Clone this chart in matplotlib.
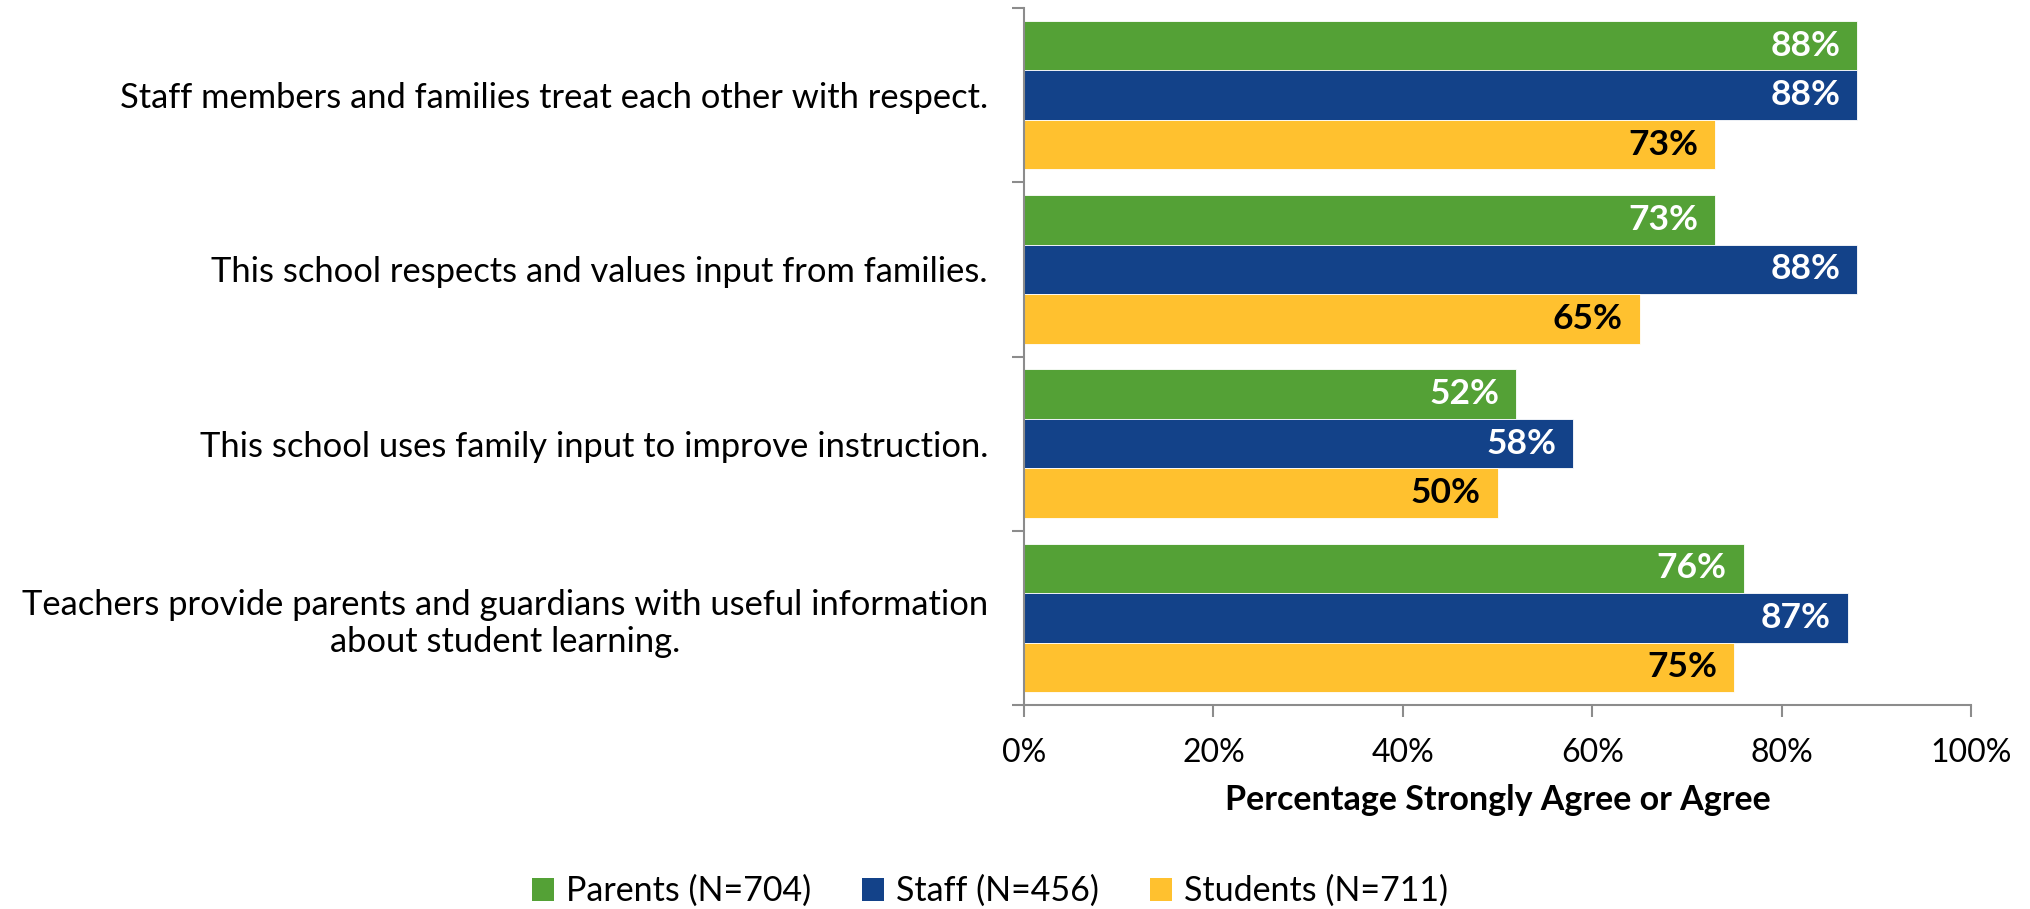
import matplotlib.pyplot as plt
from matplotlib.patches import Patch

plt.rcParams['font.family'] = ['Lato', 'DejaVu Sans']

questions = [
    "Staff members and families treat each other with respect.",
    "This school respects and values input from families.",
    "This school uses family input to improve instruction.",
    "Teachers provide parents and guardians with useful information\nabout student learning.",
]
series = ["Parents (N=704)", "Staff (N=456)", "Students (N=711)"]
parents = [88, 73, 52, 76]
staff = [88, 88, 58, 87]
students = [73, 65, 50, 75]

colors = ["#54A136", "#134289", "#FFC12F"]
label_colors = ["white", "white", "black"]
axis_grey = "#8C8C8C"

fig = plt.figure(figsize=(20.3, 9.09), dpi=100)
ax = fig.add_axes([1024 / 2030, 1 - 705 / 909, (1971 - 1024) / 2030, (705 - 8) / 909])

h = 0.284
offsets = [-h, 0, h]
ypos = list(range(len(questions)))
for vals, off, col, lc in zip([parents, staff, students], offsets, colors, label_colors):
    bars = ax.barh([y + off for y in ypos], vals, height=h, color=col,
                   edgecolor="white", linewidth=0.6)
    for b, v in zip(bars, vals):
        ax.text(v - 1.8, b.get_y() + h / 2, f"{v}%", ha="right", va="center",
                color=lc, fontsize=25.5, fontweight="bold")

ax.set_xlim(0, 100)
ax.set_ylim(len(questions) - 0.5, -0.5)

ax.set_xticks(range(0, 101, 20))
ax.set_xticklabels([f"{t}%" for t in range(0, 101, 20)], fontsize=23)
ax.set_yticks(ypos)
ax.set_yticklabels(questions, fontsize=24.8, multialignment="center", linespacing=1.2)
ax.set_yticks([y - 0.5 for y in range(len(questions) + 1)], minor=True)

ax.tick_params(axis="y", which="major", length=0, pad=26)
ax.tick_params(axis="y", which="minor", length=8.6, width=1.5, color=axis_grey, direction="out")
ax.tick_params(axis="x", which="major", length=8.6, width=1.5, color=axis_grey, direction="out", pad=15)

for side in ["top", "right"]:
    ax.spines[side].set_visible(False)
for side in ["left", "bottom"]:
    ax.spines[side].set_color(axis_grey)
    ax.spines[side].set_linewidth(1.5)

ax.set_xlabel("Percentage Strongly Agree or Agree", fontsize=24.5, fontweight="bold", labelpad=12)

handles = [Patch(facecolor=c, edgecolor="none") for c in colors]
fig.legend(handles, series, loc="center", bbox_to_anchor=(990 / 2030, 1 - 891 / 909),
           ncol=3, frameon=False, fontsize=24.5, handlelength=0.65, handleheight=0.65,
           columnspacing=1.5, handletextpad=0.35)

fig.savefig("out.png", dpi=100)
